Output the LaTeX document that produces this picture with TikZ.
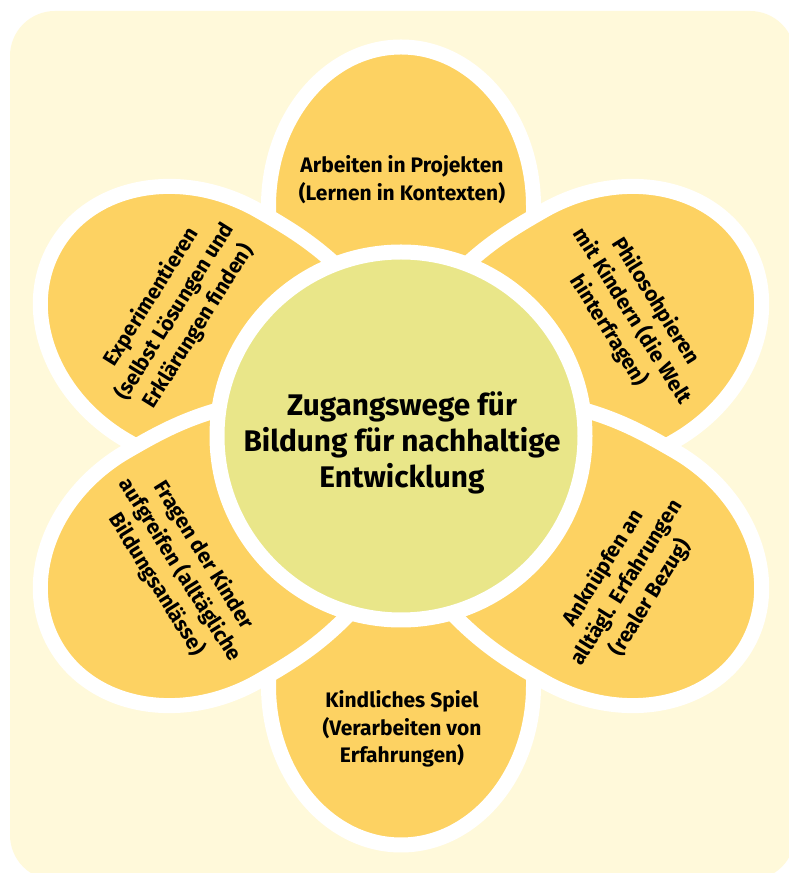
\documentclass[tikz,border=0pt]{standalone}
\usepackage{fontspec}
\setmainfont{Fira Sans}
\definecolor{bgcream}{HTML}{FFF9DA}
\definecolor{petalyel}{HTML}{FDD262}
\definecolor{coregreen}{HTML}{E9E689}
\begin{document}
\begin{tikzpicture}[x=1pt,y=1pt,
  petalshape/.style={fill=petalyel, draw=white, line width=15pt, line join=round},
  lbl/.style={font=\bfseries\fontsize{21}{27.7}\selectfont, align=center, text=black, inner sep=0pt},
  core/.style={font=\bfseries\fontsize{29.8}{36}\selectfont, align=center, text=black, inner sep=0pt}]
\useasboundingbox (0,0) rectangle (789,873);
\fill[white] (0,0) rectangle (789,873);
\fill[bgcream, rounded corners=45pt] (10,-7) rectangle (795,862);
\foreach \ang in {90,270,150,30,210,330} {
  \path[petalshape, shift={(401,427)}, rotate=\ang]
    (100,-110) .. controls (160,-132.5) and (200,-132.5) .. (240,-132.5)
    arc[start angle=-90, end angle=90, x radius=159, y radius=132.5]
    .. controls (200,132.5) and (160,132.5) .. (100,110) -- cycle;
}
\path[fill=coregreen, draw=white, line width=15pt] (401,437) circle[radius=184];
\node[lbl] (top) at (402,693.5) {Arbeiten in Projekten\\(Lernen in Kontexten)};
\node[lbl, rotate=-58] (ur) at (632,557) {Philosohpieren\\mit Kindern (die Welt\\hinterfragen)};
\node[lbl, rotate=58] (lr) at (627,290) {Anknüpfen an\\alltägl. Erfahrungen\\(realer Bezug)};
\node[lbl] (bot) at (402,144) {Kindliches Spiel\\(Verarbeiten von\\Erfahrungen)};
\node[lbl, rotate=-58] (ll) at (180,303) {Fragen der Kinder\\aufgreifen (alltägliche\\Bildungsanlässe)};
\node[lbl, rotate=58] (ul) at (175,561) {Experimentieren\\(selbst Lösungen und\\Erklärungen finden)};
\node[core] (core) at (402,430) {Zugangswege für\\Bildung für nachhaltige\\Entwicklung};
\end{tikzpicture}
\end{document}
